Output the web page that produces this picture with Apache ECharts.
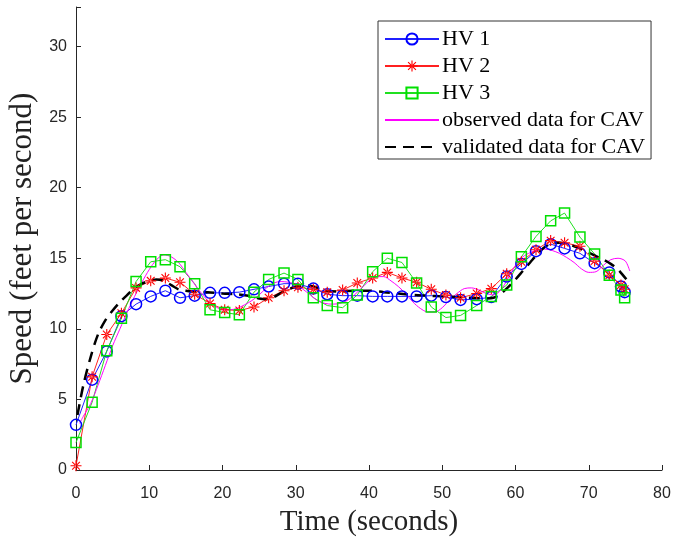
<!DOCTYPE html>
<html>
<head>
<meta charset="utf-8">
<script src="https://cdn.jsdelivr.net/npm/echarts@6/dist/echarts.min.js"></script>
<style>
    html, body { margin: 0; padding: 0; background: #fff; }
    #speedChart { width: 678px; height: 537px; }
</style>
</head>
<body>
<div id="speedChart"></div>
<script>
// marker times shared by the three HV series (seconds)
const hvTime = [0, 2.2, 4.2, 6.2, 8.2, 10.2, 12.2, 14.2, 16.2, 18.3, 20.3, 22.3, 24.3, 26.3, 28.4, 30.3, 32.4, 34.3, 36.4, 38.4,
    40.5, 42.5, 44.5, 46.5, 48.5, 50.5, 52.5, 54.7, 56.7, 58.8, 60.8, 62.8, 64.8, 66.7, 68.8, 70.8, 72.8, 74.4, 74.9];
const hv1Speed = [3.2, 6.4, 8.4, 10.9, 11.75, 12.3, 12.7, 12.2, 12.35, 12.55, 12.55, 12.6, 12.8, 13.0, 13.2, 13.2, 12.85, 12.45, 12.35, 12.35,
    12.3, 12.3, 12.3, 12.3, 12.35, 12.25, 12.05, 12.1, 12.25, 13.7, 14.6, 15.5, 16.0, 15.7, 15.35, 14.65, 14.0, 13.0, 12.6];
const hv2Speed = [0.3, 6.6, 9.6, 11.1, 12.9, 13.4, 13.6, 13.3, 12.45, 11.8, 11.35, 11.3, 11.55, 12.2, 12.7, 12.95, 12.8, 12.6, 12.75, 13.25,
    13.6, 14.0, 13.6, 13.3, 12.8, 12.4, 12.2, 12.5, 12.85, 13.9, 14.75, 15.6, 16.25, 16.1, 15.85, 14.8, 13.8, 13.1, 12.8];
const hv3Speed = [1.95, 4.8, 8.45, 10.75, 13.35, 14.75, 14.9, 14.4, 13.2, 11.35, 11.15, 11.0, 12.6, 13.5, 13.95, 13.5, 12.2, 11.65, 11.5, 12.4,
    14.05, 15.0, 14.7, 13.25, 11.55, 10.8, 10.95, 11.65, 12.3, 13.1, 15.1, 16.55, 17.65, 18.2, 16.5, 15.3, 13.8, 12.75, 12.2];

// observed data for CAV
const obsTime = [0.5, 1, 2, 3, 4, 5, 6, 7, 8, 9, 10, 11, 12, 13, 14, 15, 16, 17, 18, 19, 20, 21, 22, 23, 24, 25, 26, 27, 28, 29,
    30, 31, 32, 33, 34, 35, 36, 37, 38, 39, 40, 41, 42, 43, 44, 45, 46, 47, 48, 49, 50, 51, 52, 53, 54, 55, 56, 57, 58, 59,
    60, 61, 62, 63, 64, 65, 66, 67, 68, 69, 70, 71, 72, 73, 74, 75, 75.6];
const obsSpeed = [3.3, 3.8, 4.7, 6.0, 7.4, 8.8, 10.0, 11.2, 12.3, 13.3, 14.2, 14.9, 15.25, 15.1, 14.7, 14.0, 13.3, 12.6, 12.0, 11.6,
    11.35, 11.35, 11.45, 11.7, 12.0, 12.4, 12.9, 13.25, 13.35, 13.3, 13.15, 12.8, 12.4, 12.0, 11.8, 11.75, 11.8, 12.0, 12.4, 12.9,
    13.4, 13.7, 13.7, 13.4, 13.0, 12.5, 11.9, 11.45, 11.2, 11.2, 11.5, 12.05, 12.5, 12.85, 12.9, 12.75, 12.5, 12.4, 12.75, 13.6,
    14.5, 15.1, 15.4, 15.6, 15.65, 15.55, 15.35, 15.05, 14.7, 14.25, 14.0, 14.05, 14.5, 14.9, 15.0, 14.8, 14.1];

// validated data for CAV
const valTime = [0.2, 1, 2, 3, 4, 5, 6, 7, 8, 9, 10, 11, 12, 13, 14, 15, 16, 18, 20, 22, 24, 25, 26, 27, 28, 29, 30, 31, 32, 33,
    34, 36, 38, 40, 42, 44, 46, 48, 50, 52, 54, 56, 57, 58, 59, 60, 61, 62, 63, 64, 65, 66, 67, 68, 69, 70, 71, 72, 73, 74, 75, 75.8];
const valSpeed = [3.9, 6.0, 8.0, 9.6, 10.6, 11.3, 11.9, 12.4, 12.9, 13.2, 13.4, 13.5, 13.4, 13.1, 12.8, 12.7, 12.65, 12.6, 12.5, 12.45,
    12.3, 12.15, 12.1, 12.25, 12.55, 12.8, 13.0, 13.05, 13.05, 12.9, 12.7, 12.65, 12.7, 12.7, 12.6, 12.5, 12.4, 12.35, 12.3, 12.25,
    12.2, 12.15, 12.2, 12.5, 12.95, 13.5, 14.1, 14.7, 15.3, 15.8, 16.05, 16.1, 16.0, 15.85, 15.65, 15.4, 15.15, 14.9, 14.6, 14.2, 13.6, 13.2];

const seriesNames = ['HV 1', 'HV 2', 'HV 3', 'observed data for CAV', 'validated data for CAV'];

// asterisk marker (matlab '*')
const starPath = 'path://M0,9L20,9L20,11L0,11Z M9,0L11,0L11,20L9,20Z M2.3,3.7L16.3,17.7L17.7,16.3L3.7,2.3Z M3.7,17.7L17.7,3.7L16.3,2.3L2.3,16.3Z';

const pairs = (xs, ys) => xs.map((x, i) => [x, ys[i]]);

const serifFont = '"Liberation Serif", "Times New Roman", serif';

const option = {
    animation: false,
    backgroundColor: '#fff',
    grid: {
        left: 76,
        right: 16,
        top: 7,
        bottom: 67,
        outerBoundsMode: 'none',
    },
    legend: {
        // the two CAV lines have no marker, hide the legend dot
        data: seriesNames.map((n, i) => (i < 3 ? n : { name: n, itemStyle: { opacity: 0 } })),
        orient: 'vertical',
        left: 378,
        top: 21,
        padding: [7, 6, 1, 6],
        itemWidth: 54,
        itemHeight: 14,
        itemGap: 5,
        backgroundColor: '#fff',
        borderColor: '#333',
        borderWidth: 1,
        borderRadius: 0,
        textStyle: {
            fontFamily: serifFont,
            fontSize: 22,
            lineHeight: 22,
            color: '#000',
            padding: [0, 0, 0, -2],
        },
    },
    xAxis: {
        type: 'value',
        min: 0,
        max: 80,
        interval: 10,
        name: 'Time (seconds)',
        nameLocation: 'middle',
        nameGap: 38,
        nameTextStyle: {
            fontFamily: serifFont,
            fontSize: 29,
            color: '#222',
        },
        axisLine: { lineStyle: { color: '#262626', width: 1 } },
        axisTick: { inside: true, length: 5, lineStyle: { color: '#262626' } },
        axisLabel: {
            fontFamily: '"Liberation Sans", Arial, sans-serif',
            fontSize: 16,
            color: '#262626',
            margin: 16,
        },
        splitLine: { show: false },
    },
    yAxis: {
        type: 'value',
        min: 0,
        max: 32.8,
        interval: 5,
        name: 'Speed (feet per second)',
        nameLocation: 'middle',
        nameGap: 18,
        nameTextStyle: {
            fontFamily: serifFont,
            fontSize: 31,
            color: '#222',
        },
        axisLine: { show: true, lineStyle: { color: '#262626', width: 1 } },
        axisTick: { inside: true, length: 5, lineStyle: { color: '#262626' } },
        axisLabel: {
            fontFamily: '"Liberation Sans", Arial, sans-serif',
            fontSize: 16,
            color: '#262626',
            margin: 9,
            formatter: (v) => (v % 5 === 0 ? String(v) : ''),
        },
        splitLine: { show: false },
    },
    series: [
        {
            name: 'HV 1',
            type: 'line',
            data: pairs(hvTime, hv1Speed),
            symbol: 'circle',
            symbolSize: 11,
            lineStyle: { color: '#2020ff', width: 1 },
            itemStyle: { color: 'rgba(0,0,0,0)', borderColor: '#0000ff', borderWidth: 1.5 },
        },
        {
            name: 'HV 2',
            type: 'line',
            data: pairs(hvTime, hv2Speed),
            symbol: starPath,
            symbolSize: 11,
            lineStyle: { color: '#ff2020', width: 1 },
            itemStyle: { color: '#ff0000' },
        },
        {
            name: 'HV 3',
            type: 'line',
            data: pairs(hvTime, hv3Speed),
            symbol: 'rect',
            symbolSize: 10,
            lineStyle: { color: '#20e020', width: 1 },
            itemStyle: { color: 'rgba(0,0,0,0)', borderColor: '#00e000', borderWidth: 1.5 },
        },
        {
            name: 'observed data for CAV',
            type: 'line',
            data: pairs(obsTime, obsSpeed),
            showSymbol: false,
            symbol: 'none',
            smooth: 0.3,
            lineStyle: { color: '#ff00ff', width: 1 },
            itemStyle: { color: '#ff00ff' },
        },
        {
            name: 'validated data for CAV',
            type: 'line',
            data: pairs(valTime, valSpeed),
            showSymbol: false,
            symbol: 'none',
            smooth: 0.3,
            lineStyle: { color: '#000', width: 2.5, type: [11, 7] },
            itemStyle: { color: '#000' },
        },
    ],
};

const myChart = echarts.init(document.getElementById('speedChart'), null, { renderer: 'canvas' });
myChart.setOption(option);
</script>
</body>
</html>
